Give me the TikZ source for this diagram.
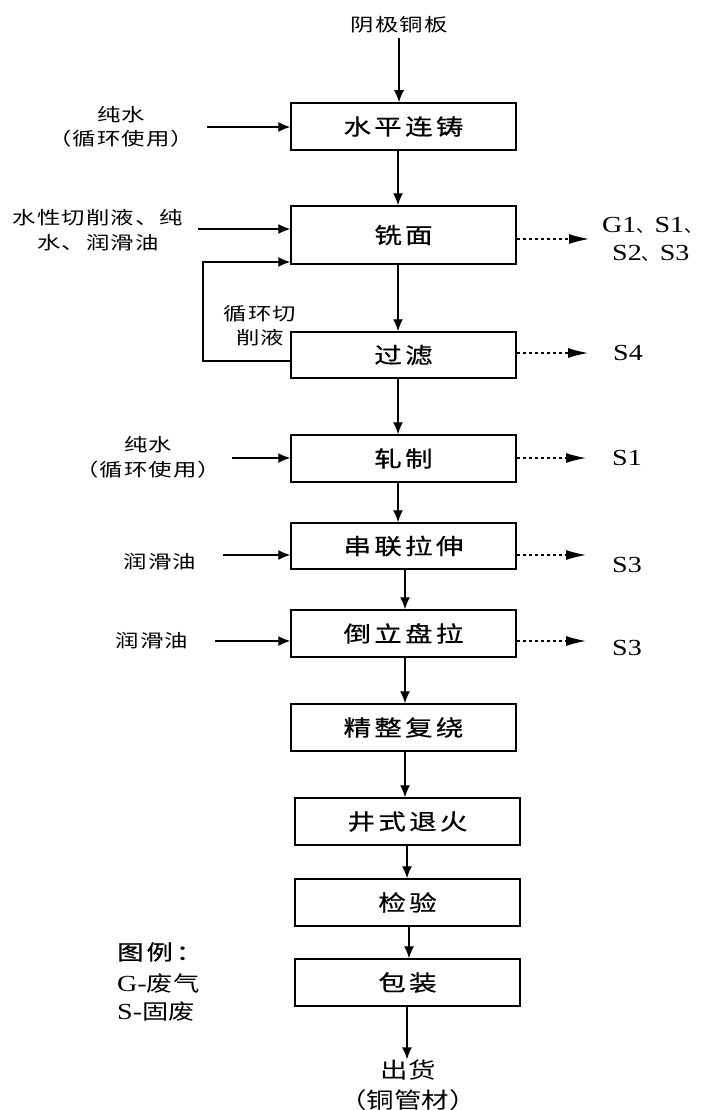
\documentclass[tikz,border=0pt]{standalone}
\usepackage{fontspec}
\setmainfont{Liberation Serif}[FakeStretch=1.22]
\newfontfamily\boxcjk{Noto Sans CJK SC}[FakeStretch=1.25,LetterSpace=15,FakeBold=0.6]
\newfontfamily\plaincjk{Noto Sans CJK SC}[FakeStretch=1.25]
\newfontfamily\sidecjk{Noto Sans CJK SC}[FakeStretch=1.3,LetterSpace=6]
\newfontfamily\punctcjk{Noto Sans CJK SC}
\newcommand\dun{{\punctcjk\fontsize{18}{20}\selectfont 、}}
\usetikzlibrary{arrows.meta}
\begin{document}
\begin{tikzpicture}[x=1pt,y=-1pt,
  pbox/.style={draw,line width=1.5pt,inner sep=0pt,minimum width=225pt,minimum height=47pt,
    font=\boxcjk\fontsize{22}{24}\selectfont},
  side/.style={inner sep=0pt,align=center,font=\sidecjk\fontsize{18}{24.5}\selectfont},
  lat/.style={inner sep=0pt,align=center,font=\fontsize{23}{28}\selectfont},
  legend/.style={inner sep=0pt,anchor=west,font=\fontsize{23}{26}\selectfont},
  arr/.style={line width=1.3pt,-{Latex[length=12pt,width=10pt]}},
  darr/.style={line width=1.2pt,dash pattern=on 3.5pt off 2.5pt,-{Latex[length=20pt,width=10pt]}}]
\fill[white] (0,0) rectangle (705,1110);
\useasboundingbox (0,0) rectangle (705,1110);

% process boxes
\node[pbox] (b1) at (403.5,126.5) {水平连铸};
\node[pbox,minimum height=58pt] (b2) at (403.5,235) {铣面};
\node[pbox,minimum height=46pt] (b3) at (403.5,355) {过滤};
\node[pbox] (b4) at (403.5,458.5) {轧制};
\node[pbox,minimum height=46pt] (b5) at (403.5,546) {串联拉伸};
\node[pbox] (b6) at (403.5,633.5) {倒立盘拉};
\node[pbox] (b7) at (403.5,727.5) {精整复绕};
\node[pbox] (b8) at (407.5,821.5) {井式退火};
\node[pbox] (b9) at (407.5,902.5) {检验};
\node[pbox] (b10) at (407.5,982.5) {包装};

% source and product
\node[side] (src) at (399,25) {阴极铜板};
\node[inner sep=0pt,align=center,font=\plaincjk\fontsize{22}{30}\selectfont] (out) at (408,1085) {出货\\（铜管材）};

% main flow
\draw[arr] (src.south |- 0,38) -- (src.south |- b1.north);
\draw[arr] ([xshift=-5.5pt]b1.south) -- ([xshift=-5.5pt]b2.north);
\draw[arr] ([xshift=-5.5pt]b2.south) -- ([xshift=-5.5pt]b3.north);
\draw[arr] ([xshift=-5.5pt]b3.south) -- ([xshift=-5.5pt]b4.north);
\draw[arr] ([xshift=-5.5pt]b4.south) -- ([xshift=-5.5pt]b5.north);
\draw[arr] ([xshift=1.5pt]b5.south) -- ([xshift=1.5pt]b6.north);
\draw[arr] ([xshift=1.5pt]b6.south) -- ([xshift=1.5pt]b7.north);
\draw[arr] ([xshift=1.5pt]b7.south) -- ([xshift=1.5pt]b7.south |- b8.north);
\draw[arr] ([xshift=-0.5pt]b8.south) -- ([xshift=-0.5pt]b8.south |- b9.north);
\draw[arr] ([xshift=1.5pt]b9.south) -- ([xshift=1.5pt]b10.north);
\draw[arr] ([xshift=-0.5pt]b10.south) -- ([xshift=-0.5pt]b10.south |- out.north);

% inputs
\node[side] (t1) at (121,127) {纯水\\（循环使用）};
\coordinate (i1) at (207,127);
\draw[arr] (i1) -- (i1 -| b1.west);

\node[side] (t2) at (98,230) {水性切削液、纯\\水、润滑油};
\coordinate (i2) at (198,229);
\draw[arr] (i2) -- (i2 -| b2.west);

\coordinate (lp1) at (203,361);
\coordinate (lp2) at (203,262);
\draw[arr] (b3.west |- lp1) -- (lp1) -- (lp2) -- (lp2 -| b2.west);
\node[side] (t3) at (260,325.5) {循环切\\削液};

\node[side] (t4) at (148,457.5) {纯水\\（循环使用）};
\coordinate (i4) at (232,458);
\draw[arr] (i4) -- (i4 -| b4.west);

\node[side] (t5) at (160,562) {润滑油};
\coordinate (i5) at (223,555);
\draw[arr] (i5) -- (i5 -| b5.west);

\node[side] (t6) at (152,641) {润滑油};
\coordinate (i6) at (215,641);
\draw[arr] (i6) -- (i6 -| b6.west);

% outputs
\coordinate (o2) at (589,239);
\draw[darr] (b2.east |- o2) -- (o2);
\node[lat,anchor=west] (r2a) at (602,225) {G1\dun S1\dun};
\node[lat,anchor=west] (r2b) at (612,253) {S2\dun S3};

\coordinate (o3) at (588,353);
\draw[darr] (b3.east |- o3) -- (o3);
\node[lat] (r3) at (628,353) {S4};

\coordinate (o4) at (586,458);
\draw[darr] (b4.east |- o4) -- (o4);
\node[lat] (r4) at (627,458) {S1};

\coordinate (o5) at (586,555);
\draw[darr] (b5.east |- o5) -- (o5);
\node[lat] (r5) at (627,565) {S3};

\coordinate (o6) at (586,641);
\draw[darr] (b6.east |- o6) -- (o6);
\node[lat] (r6) at (627,648) {S3};

% legend
\node[legend] (lg1) at (117,952) {\boxcjk\fontsize{21}{24}\selectfont 图例：};
\node[legend] (lg2) at (117,984) {G-{\plaincjk\fontsize{21}{24}\selectfont 废气}};
\node[legend] (lg3) at (117,1012) {S-{\plaincjk\fontsize{21}{24}\selectfont 固废}};
\end{tikzpicture}
\end{document}
